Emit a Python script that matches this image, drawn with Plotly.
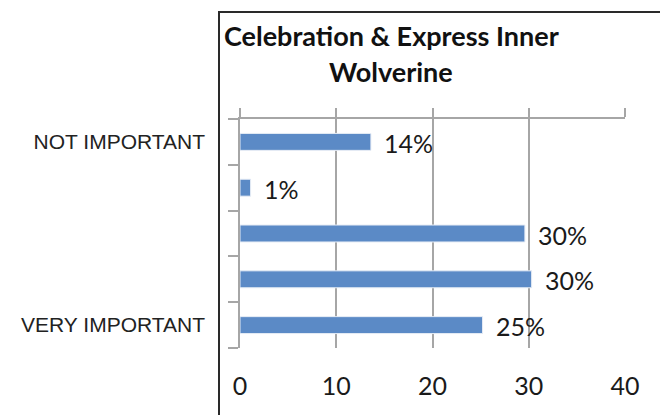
import plotly.graph_objects as go

# ---- data (bottom to top) ----
levels = [1, 2, 3, 4, 5]
level_names = ["VERY IMPORTANT", "", "", "", "NOT IMPORTANT"]
values = [25.2, 30.3, 29.6, 1.1, 13.6]
value_labels = ["25%", "30%", "30%", "1%", "14%"]
x_ticks = [0, 10, 20, 30, 40]
title_lines = ["Celebration & Express Inner", "Wolverine"]

W, H = 660, 415
ML, MR, MT, MB = 240, 35, 119, 67
plot_w = W - ML - MR
plot_h = H - MT - MB

grid_col = "#A6A6A6"
bar_col = "#5B8AC6"


def px_to_paper_x(px):
    return (px - ML) / plot_w


def px_to_paper_y(py):
    return (H - MB - py) / plot_h


fig = go.Figure()
fig.add_trace(go.Bar(
    x=values, y=levels, orientation="h", width=0.37,
    marker=dict(color=bar_col, line=dict(color="#E6ECF5", width=1)),
    showlegend=False, hoverinfo="skip",
))
# invisible trace to activate top axis
fig.add_trace(go.Scatter(x=[0, 40], y=[1, 1], xaxis="x2", mode="markers",
                         marker=dict(opacity=0), showlegend=False, hoverinfo="skip"))

for v, lv, t in zip(values, levels, value_labels):
    fig.add_annotation(x=v, y=lv, text=t, showarrow=False, xanchor="left",
                       xshift=11, yshift=-1,
                       font=dict(family="Lato", size=25, color="#1a1a1a"))

# title (two centred lines)
for line, py in zip(title_lines, [35, 71]):
    fig.add_annotation(xref="paper", yref="paper", x=px_to_paper_x(391),
                       y=px_to_paper_y(py), text="<b>" + line + "</b>",
                       showarrow=False, xanchor="center", yanchor="middle",
                       font=dict(family="Lato", size=27, color="#111111"))

# frame lines (left and top)
frame = dict(color="#2a2a2a", width=2)
fig.add_shape(type="line", xref="paper", yref="paper",
              x0=px_to_paper_x(219), x1=px_to_paper_x(219),
              y0=px_to_paper_y(12), y1=px_to_paper_y(416), line=frame)
fig.add_shape(type="line", xref="paper", yref="paper",
              x0=px_to_paper_x(218), x1=px_to_paper_x(662),
              y0=px_to_paper_y(12), y1=px_to_paper_y(12), line=frame)

fig.update_layout(
    width=W, height=H,
    margin=dict(l=ML, r=MR, t=MT, b=MB),
    paper_bgcolor="white", plot_bgcolor="white",
    xaxis=dict(range=[0, 40], tickvals=x_ticks, showgrid=True, gridcolor=grid_col,
               gridwidth=1.5, zeroline=False, showline=False, ticks="",
               ticklabelstandoff=21,
               tickfont=dict(family="Lato", size=25, color="#1a1a1a")),
    xaxis2=dict(range=[0, 40], overlaying="x", side="top", tickvals=x_ticks,
                showticklabels=False, ticks="outside", ticklen=9, tickwidth=1.5,
                tickcolor=grid_col, showline=True, linecolor=grid_col, linewidth=1.5,
                showgrid=False, zeroline=False),
    yaxis=dict(range=[0.5, 5.5], tickvals=levels, ticktext=level_names,
               ticks="", showgrid=False, zeroline=False,
               showline=True, linecolor=grid_col, linewidth=1.5,
               ticklabelstandoff=29,
               tickfont=dict(family="Liberation Sans", size=21, color="#222222"),
               minor=dict(tickmode="array", tickvals=[0.5, 1.5, 2.5, 3.5, 4.5, 5.5],
                          ticks="outside", ticklen=10, tickwidth=1.5,
                          tickcolor=grid_col, showgrid=False)),
)

fig.write_html("out.html", config={"displayModeBar": False},
               post_script="document.body.style.margin='0';document.body.style.overflow='hidden';")
